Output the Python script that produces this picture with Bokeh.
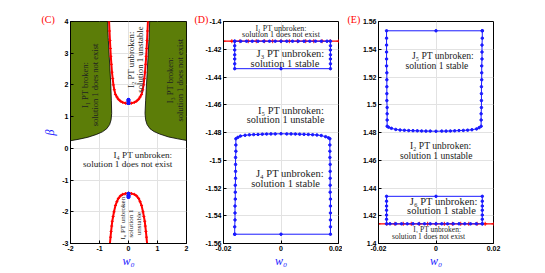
from bokeh.plotting import figure
from bokeh.models import Range1d, FixedTicker, Title
from bokeh.layouts import row
from bokeh.embed import file_html
from bokeh.resources import INLINE
from bokeh.core.properties import value

# ---------------- Panel C data ----------------
c_xticks = [-2, -1, 0, 1, 2]
c_xlabels = ["-2", "-1", "0", "1", "2"]
c_yticks = [-3, -2, -1, 0, 1, 2, 3, 4]
c_ylabels = ["-3", "-2", "-1", "0", "1", "2", "3", "4"]

green_left_w = [-2.0, -0.72, -0.70, -0.67, -0.64, -0.61, -0.59, -0.58, -0.60, -0.65, -0.75, -0.90, -1.10, -1.40, -1.70, -2.0]
green_left_b = [4.0, 4.0, 3.5, 3.0, 2.5, 2.0, 1.5, 1.1, 0.9, 0.75, 0.62, 0.52, 0.44, 0.35, 0.29, 0.24]
green_right_w = [2.0, 0.73, 0.71, 0.68, 0.65, 0.62, 0.59, 0.57, 0.59, 0.64, 0.74, 0.88, 1.08, 1.38, 1.70, 2.0]
green_right_b = [4.0, 4.0, 3.5, 3.0, 2.5, 2.0, 1.5, 1.1, 0.9, 0.75, 0.62, 0.53, 0.45, 0.36, 0.30, 0.25]

red_up_w = [-0.67, -0.655, -0.64, -0.625, -0.61, -0.59, -0.57, -0.545, -0.52, -0.49, -0.45, -0.40, -0.35, -0.28, -0.20, -0.10, 0.0,
            0.10, 0.20, 0.28, 0.35, 0.40, 0.45, 0.49, 0.52, 0.545, 0.57, 0.59, 0.61, 0.625, 0.64, 0.655, 0.67]
red_up_b = [4.0, 3.7, 3.4, 3.15, 2.9, 2.65, 2.4, 2.2, 2.0, 1.85, 1.7, 1.62, 1.55, 1.49, 1.45, 1.425, 1.414,
            1.425, 1.45, 1.49, 1.55, 1.62, 1.7, 1.85, 2.0, 2.2, 2.4, 2.65, 2.9, 3.15, 3.4, 3.7, 4.0]
red_lo_w = [-0.64, -0.62, -0.60, -0.58, -0.56, -0.53, -0.50, -0.45, -0.40, -0.35, -0.28, -0.20, -0.10, 0.0,
            0.10, 0.20, 0.28, 0.35, 0.40, 0.45, 0.50, 0.53, 0.56, 0.58, 0.60, 0.62, 0.64]
red_lo_b = [-3.0, -2.8, -2.62, -2.45, -2.3, -2.15, -2.0, -1.8, -1.68, -1.58, -1.5, -1.45, -1.425, -1.414,
            -1.425, -1.45, -1.5, -1.58, -1.68, -1.8, -2.0, -2.15, -2.3, -2.45, -2.62, -2.8, -3.0]

# ---------------- Panel D data ----------------
d_xticks = [-0.02, 0, 0.02]
d_xlabels = ["-0.02", "0", "0.02"]
d_yticks = [-1.56, -1.54, -1.52, -1.5, -1.48, -1.46, -1.44, -1.42, -1.4]
d_ylabels = ["-1.56", "-1.54", "-1.52", "-1.5", "-1.48", "-1.46", "-1.44", "-1.42", "-1.4"]

d_red_w = [-0.0200, -0.0171, -0.0143, -0.0114, -0.0086, -0.0057, -0.0029, 0.0, 0.0029, 0.0057, 0.0086, 0.0114, 0.0143, 0.0171, 0.0200]
d_red_b = [-1.4142, -1.4142, -1.4142, -1.4142, -1.4142, -1.4142, -1.4142, -1.4142, -1.4142, -1.4142, -1.4142, -1.4142, -1.4142, -1.4142, -1.4142]

d_j3_w = [-0.0161, -0.0140, -0.0120, -0.0100, -0.0080, -0.0060, -0.0040, -0.0020, 0.0, 0.0020, 0.0040, 0.0060, 0.0080, 0.0100, 0.0120, 0.0140, 0.0160, 0.0172,
          0.0172, 0.0172, 0.0172, 0.0172, 0.0172, 0.0172, 0.0, -0.0161,
          -0.0161, -0.0161, -0.0161, -0.0161, -0.0161, -0.0161]
d_j3_b = [-1.4142, -1.4142, -1.4142, -1.4142, -1.4142, -1.4142, -1.4142, -1.4142, -1.4142, -1.4142, -1.4142, -1.4142, -1.4142, -1.4142, -1.4142, -1.4142, -1.4142, -1.4142,
          -1.4175, -1.4205, -1.4240, -1.4270, -1.4305, -1.4340, -1.4340, -1.4340,
          -1.4305, -1.4270, -1.4240, -1.4205, -1.4175, -1.4142]

d_j4_w = [-0.0161, -0.0161, -0.0160, -0.0160, -0.0160, -0.0159, -0.0159, -0.0159, -0.0158, -0.0158, -0.0158, -0.0158, -0.0157, -0.0157, -0.0157,
          -0.0150, -0.0141, -0.0125, -0.0110, -0.0095, -0.0080, -0.0065, -0.0050, -0.0035, -0.0020, 0.0, 0.0020, 0.0035, 0.0050, 0.0065, 0.0080, 0.0095, 0.0110, 0.0125, 0.0140, 0.0155, 0.0165, 0.0170,
          0.0170, 0.0170, 0.0170, 0.0171, 0.0171, 0.0171, 0.0171, 0.0171, 0.0172, 0.0172, 0.0172, 0.0172, 0.0172, 0.0172,
          0.0, -0.0161]
d_j4_b = [-1.5533, -1.5480, -1.5430, -1.5380, -1.5330, -1.5280, -1.5230, -1.5180, -1.5130, -1.5080, -1.5030, -1.4980, -1.4935, -1.4890, -1.4845,
          -1.4835, -1.4826, -1.4820, -1.4817, -1.4815, -1.4814, -1.4812, -1.4811, -1.4810, -1.4810, -1.4809, -1.4810, -1.4810, -1.4811, -1.4812, -1.4813, -1.4814, -1.4816, -1.4818, -1.4822, -1.4830, -1.4838, -1.4845,
          -1.4890, -1.4935, -1.4980, -1.5030, -1.5080, -1.5130, -1.5180, -1.5230, -1.5280, -1.5330, -1.5380, -1.5430, -1.5480, -1.5533,
          -1.5533, -1.5533]

# ---------------- Panel E data ----------------
e_xticks = [-0.02, 0, 0.02]
e_xlabels = ["-0.02", "0", "0.02"]
e_yticks = [1.4, 1.42, 1.44, 1.46, 1.48, 1.5, 1.52, 1.54, 1.56]
e_ylabels = ["1.4", "1.42", "1.44", "1.46", "1.48", "1.5", "1.52", "1.54", "1.56"]

e_red_w = [-0.0200, -0.0171, -0.0143, -0.0114, -0.0086, -0.0057, -0.0029, 0.0, 0.0029, 0.0057, 0.0086, 0.0114, 0.0143, 0.0171, 0.0200]
e_red_b = [1.4142, 1.4142, 1.4142, 1.4142, 1.4142, 1.4142, 1.4142, 1.4142, 1.4142, 1.4142, 1.4142, 1.4142, 1.4142, 1.4142, 1.4142]

e_j6_w = [0.0161, 0.0140, 0.0120, 0.0100, 0.0080, 0.0060, 0.0040, 0.0020, 0.0, -0.0020, -0.0040, -0.0060, -0.0080, -0.0100, -0.0120, -0.0140, -0.0160, -0.0172,
          -0.0172, -0.0172, -0.0172, -0.0172, -0.0172, -0.0172, 0.0, 0.0161,
          0.0161, 0.0161, 0.0161, 0.0161, 0.0161, 0.0161]
e_j6_b = [1.4142, 1.4142, 1.4142, 1.4142, 1.4142, 1.4142, 1.4142, 1.4142, 1.4142, 1.4142, 1.4142, 1.4142, 1.4142, 1.4142, 1.4142, 1.4142, 1.4142, 1.4142,
          1.4175, 1.4205, 1.4240, 1.4270, 1.4305, 1.4340, 1.4340, 1.4340,
          1.4305, 1.4270, 1.4240, 1.4205, 1.4175, 1.4142]

e_j5_w = [0.0161, 0.0161, 0.0160, 0.0160, 0.0160, 0.0159, 0.0159, 0.0159, 0.0158, 0.0158, 0.0158, 0.0158, 0.0157, 0.0157, 0.0157,
          0.0150, 0.0141, 0.0125, 0.0110, 0.0095, 0.0080, 0.0065, 0.0050, 0.0035, 0.0020, 0.0, -0.0020, -0.0035, -0.0050, -0.0065, -0.0080, -0.0095, -0.0110, -0.0125, -0.0140, -0.0155, -0.0165, -0.0170,
          -0.0170, -0.0170, -0.0170, -0.0171, -0.0171, -0.0171, -0.0171, -0.0171, -0.0172, -0.0172, -0.0172, -0.0172, -0.0172, -0.0172,
          0.0, 0.0161]
e_j5_b = [1.5533, 1.5480, 1.5430, 1.5380, 1.5330, 1.5280, 1.5230, 1.5180, 1.5130, 1.5080, 1.5030, 1.4980, 1.4935, 1.4890, 1.4845,
          1.4835, 1.4826, 1.4820, 1.4817, 1.4815, 1.4814, 1.4812, 1.4811, 1.4810, 1.4810, 1.4809, 1.4810, 1.4810, 1.4811, 1.4812, 1.4813, 1.4814, 1.4816, 1.4818, 1.4822, 1.4830, 1.4838, 1.4845,
          1.4890, 1.4935, 1.4980, 1.5030, 1.5080, 1.5130, 1.5180, 1.5230, 1.5280, 1.5330, 1.5380, 1.5430, 1.5480, 1.5533,
          1.5533, 1.5533]

RED = "#ff0000"
BLUE = "#1a1aff"
GREEN = "#5c7d08"
SERIF = "Liberation Serif"
TXT = "#222222"
H = 271


def make_fig(width, xr, yr, left, right, xt, xl, yt, yl, tag, tag_offset):
    p = figure(width=width, height=H, x_range=Range1d(*xr), y_range=Range1d(*yr),
               output_backend="svg", toolbar_location=None,
               min_border_left=left, min_border_right=right, min_border_top=21, min_border_bottom=28)
    p.background_fill_color = "white"
    p.border_fill_color = "white"
    p.outline_line_color = "black"
    p.outline_line_width = 1
    p.xaxis.ticker = FixedTicker(ticks=xt)
    p.xaxis.major_label_overrides = dict(zip(xt, xl))
    p.yaxis.ticker = FixedTicker(ticks=yt)
    p.yaxis.major_label_overrides = dict(zip(yt, yl))
    for ax in (p.xaxis, p.yaxis):
        ax.major_label_text_font = "Liberation Sans"
        ax.major_label_text_font_style = "bold"
        ax.major_label_text_font_size = "7px"
        ax.major_label_text_color = "black"
        ax.major_tick_in = 3
        ax.major_tick_out = 0
        ax.minor_tick_line_color = None
        ax.major_label_standoff = 2
        ax.axis_line_color = "black"
        ax.major_tick_line_color = "black"
    p.xaxis.axis_label = "w\u2080"
    p.xaxis.axis_label_text_font = SERIF
    p.xaxis.axis_label_text_font_size = "12px"
    p.xaxis.axis_label_text_font_style = "italic"
    p.xaxis.axis_label_text_color = BLUE
    p.xaxis.axis_label_standoff = 0
    p.grid.grid_line_color = "#e2e2e2"
    p.grid.grid_line_width = 1
    t = Title(text=tag, align="left", offset=tag_offset, text_font=SERIF, text_font_size="10px",
              text_color=RED, text_font_style="normal", standoff=0)
    try:
        t.standoff = -6
    except Exception:
        t.standoff = 0
    p.add_layout(t, "above")
    return p


def txt(p, x, y, s, size, angle=0.0, align="center"):
    p.text(x=[x], y=[y], text=[s], text_font=value(SERIF), text_font_size=value(size),
           text_color=TXT, text_align=align, text_baseline="middle", angle=angle)


ang = 1.5708

# ---------------- Panel C ----------------
pc = make_fig(190, (-2, 2), (-3, 4), 70, 4, c_xticks, c_xlabels, c_yticks, c_ylabels, "(C)", -29)
pc.yaxis.axis_label = "\u03b2"
pc.yaxis.axis_label_text_font = SERIF
pc.yaxis.axis_label_text_font_size = "12px"
pc.yaxis.axis_label_text_font_style = "italic"
pc.yaxis.axis_label_text_color = BLUE
pc.yaxis.axis_label_standoff = 2

pc.patch(green_left_w, green_left_b, fill_color=GREEN, line_color="black", line_width=0.8)
pc.patch(green_right_w, green_right_b, fill_color=GREEN, line_color="black", line_width=0.8)
pc.line(red_up_w, red_up_b, line_color=RED, line_width=2)
pc.scatter(red_up_w, red_up_b, marker="cross", size=3, line_color=RED)
pc.line(red_lo_w, red_lo_b, line_color=RED, line_width=2)
pc.scatter(red_lo_w, red_lo_b, marker="cross", size=3, line_color=RED)
for w, b in ((e_j5_w, e_j5_b), (e_j6_w, e_j6_b), (d_j4_w, d_j4_b), (d_j3_w, d_j3_b)):
    pc.line(w, b, line_color=BLUE, line_width=1)
    pc.scatter(w, b, marker="circle", size=1.5, color=BLUE)

txt(pc, -1.49, 2.0, "I\u2081 PT broken:", "8.5px", ang)
txt(pc, -1.17, 2.0, "solution 1 does not exist", "8.5px", ang)
txt(pc, 0.07, 2.8, "I\u2082 PT unbroken:", "8.8px", ang)
txt(pc, 0.40, 2.8, "solution 1 unstable", "8.8px", ang)
txt(pc, 1.44, 2.15, "I\u2083 PT broken:", "8.5px", ang)
txt(pc, 1.76, 2.15, "solution 1 does not exist", "8.5px", ang)
txt(pc, 1.51, -0.2, "I\u2084 PT unbroken:", "9.2px", 0.0, "right")
txt(pc, 1.51, -0.5, "solution 1 does not exist", "9.2px", 0.0, "right")
txt(pc, -0.18, -2.17, "I\u2086 PT unbroken:", "7px", ang)
txt(pc, 0.09, -2.37, "solution 1", "7px", ang)
txt(pc, 0.37, -2.37, "unstable", "7px", ang)

# ---------------- Panel D ----------------
pd_ = make_fig(152, (-0.02, 0.02), (-1.56, -1.4), 33, 4, d_xticks, d_xlabels, d_yticks, d_ylabels, "(D)", -29)
pd_.line(d_red_w, d_red_b, line_color=RED, line_width=1.2)
pd_.scatter(d_red_w, d_red_b, marker="cross", size=4, line_color=RED)
for w, b in ((d_j3_w, d_j3_b), (d_j4_w, d_j4_b)):
    pd_.line(w, b, line_color=BLUE, line_width=1)
    pd_.scatter(w, b, marker="circle", size=2.5, color=BLUE)

txt(pd_, 0.0, -1.4048, "I\u2081 PT unbroken:", "8px")
txt(pd_, 0.0, -1.4094, "solution 1 does not exist", "8px")
txt(pd_, 0.0033, -1.4233, "J\u2083 PT unbroken:", "10.5px")
txt(pd_, 0.0014, -1.4305, "solution 1 stable", "10.5px")
txt(pd_, 0.0035, -1.4641, "I\u2085 PT unbroken:", "10.3px")
txt(pd_, 0.0016, -1.4708, "solution 1 unstable", "10.3px")
txt(pd_, 0.0031, -1.5098, "J\u2084 PT unbroken:", "10.5px")
txt(pd_, 0.0016, -1.5165, "solution 1 stable", "10.5px")

# ---------------- Panel E ----------------
pe = make_fig(195, (-0.02, 0.02), (1.4, 1.56), 36, 44, e_xticks, e_xlabels, e_yticks, e_ylabels, "(E)", -31)
pe.line(e_red_w, e_red_b, line_color=RED, line_width=1.2)
pe.scatter(e_red_w, e_red_b, marker="cross", size=4, line_color=RED)
for w, b in ((e_j6_w, e_j6_b), (e_j5_w, e_j5_b)):
    pe.line(w, b, line_color=BLUE, line_width=1)
    pe.scatter(w, b, marker="circle", size=2.5, color=BLUE)

txt(pe, 0.0024, 1.5355, "J\u2085 PT unbroken:", "9.6px")
txt(pe, 0.0003, 1.5283, "solution 1 stable", "9.6px")
txt(pe, 0.0016, 1.4706, "I\u2082 PT unbroken:", "9.6px")
txt(pe, 0.0001, 1.4634, "solution 1 unstable", "9.6px")
txt(pe, 0.0027, 1.4303, "J\u2086 PT unbroken:", "10.5px")
txt(pe, 0.0019, 1.4238, "solution 1 stable", "10.5px")
txt(pe, 0.0004, 1.4101, "I\u2081 PT unbroken:", "7.5px")
txt(pe, -0.0026, 1.4050, "solution 1 does not exist", "7.5px")

layout = row(pc, pd_, pe)
open("out.html", "w").write(file_html(layout, INLINE))
